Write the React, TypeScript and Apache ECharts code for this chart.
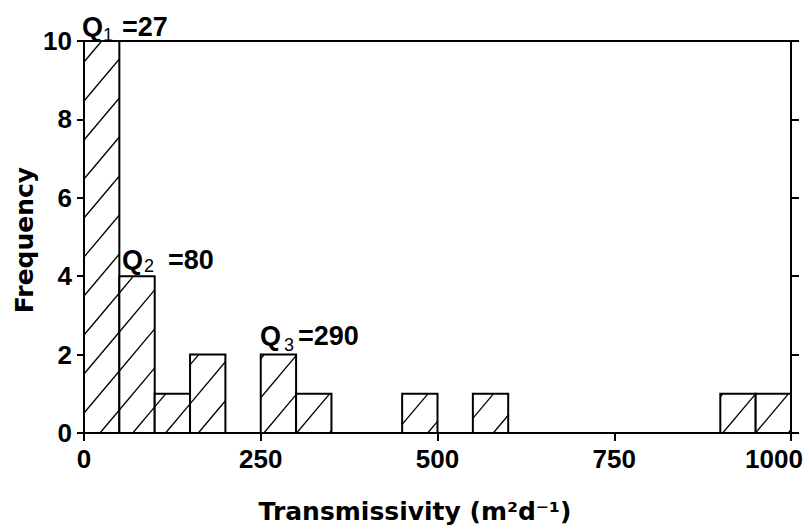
import React, { useEffect, useRef } from "react";
import * as echarts from "echarts";

// Histogram bins (m2 d-1) and their frequencies (empty bins omitted)
const binStart = [0, 50, 100, 150, 250, 300, 450, 550, 900, 950];
const binEnd = [50, 100, 150, 200, 300, 350, 500, 600, 950, 1000];
const frequency = [10, 4, 1, 2, 2, 1, 1, 1, 1, 1];

// Quartile annotations
const quartileIndex = ["1", "2", "3"];
const quartileText = ["=27", "=80", "=290"];

const xAxisTitle = "Transmissivity (m\u00B2d\u207B\u00B9)";
const yAxisTitle = "Frequency";

const NUM_FONT = "'Liberation Sans', Arial, Helvetica, sans-serif";
const TITLE_FONT = "'DejaVu Sans', 'Liberation Sans', sans-serif";

const HATCH_SLOPE = 1.19;
const HATCH_GAP = 39;
const HATCH_PHASE = 6;

function renderBar(params: any, api: any) {
  const s = api.value(0);
  const e = api.value(1);
  const f = api.value(2);
  const p0 = api.coord([s, 0]);
  const p1 = api.coord([e, f]);
  const x1 = p0[0];
  const x2 = p1[0];
  const yb = p0[1];
  const yt = p1[1];
  const children: any[] = [
    {
      type: "rect",
      shape: { x: x1, y: yt, width: x2 - x1, height: yb - yt },
      style: { fill: "#ffffff" },
    },
  ];
  const m = HATCH_SLOPE;
  const cMin = yt + m * x1;
  const cMax = yb + m * x2;
  const kStart = Math.ceil((cMin - HATCH_PHASE) / HATCH_GAP);
  const kEnd = Math.floor((cMax - HATCH_PHASE) / HATCH_GAP);
  for (let k = kStart; k <= kEnd; k++) {
    const c = HATCH_PHASE + k * HATCH_GAP;
    const xa = Math.max(x1, (c - yb) / m);
    const xb = Math.min(x2, (c - yt) / m);
    if (xb - xa > 0.5) {
      children.push({
        type: "line",
        shape: { x1: xa, y1: c - m * xa, x2: xb, y2: c - m * xb },
        style: { stroke: "#000", lineWidth: 1.3 },
      });
    }
  }
  children.push({
    type: "rect",
    shape: { x: x1, y: yt, width: x2 - x1, height: yb - yt },
    style: { fill: "none", stroke: "#000", lineWidth: 2 },
  });
  return { type: "group", children };
}

function quartileLabel(
  qx: number,
  qy: number,
  subDx: number,
  subDy: number,
  restDx: number,
  idx: number
) {
  return {
    type: "group",
    silent: true,
    children: [
      {
        type: "text",
        x: qx,
        y: qy,
        style: {
          text: "Q",
          fontFamily: NUM_FONT,
          fontWeight: "bold",
          fontSize: 27,
          fill: "#000",
          align: "left",
          verticalAlign: "middle",
        },
      },
      {
        type: "text",
        x: qx + subDx,
        y: qy + subDy,
        style: {
          text: quartileIndex[idx],
          fontFamily: NUM_FONT,
          fontWeight: "normal",
          fontSize: 18,
          fill: "#000",
          align: "left",
          verticalAlign: "middle",
        },
      },
      {
        type: "text",
        x: qx + restDx,
        y: qy,
        style: {
          text: quartileText[idx],
          fontFamily: NUM_FONT,
          fontWeight: "bold",
          fontSize: 27,
          fill: "#000",
          align: "left",
          verticalAlign: "middle",
        },
      },
    ],
  };
}

export default function App() {
  const ref = useRef<HTMLDivElement>(null);
  useEffect(() => {
    if (!ref.current) return;
    const chart = echarts.init(ref.current, null, { renderer: "svg" });
    const data = binStart.map((s, i) => [s, binEnd[i], frequency[i]]);
    const axisLineStyle = { color: "#000", width: 2 };
    const labelFont = {
      color: "#000",
      fontFamily: NUM_FONT,
      fontWeight: "bold",
      fontSize: 26,
    };
    chart.setOption({
      animation: false,
      backgroundColor: "#ffffff",
      grid: {
        left: 84,
        right: 18,
        top: 41,
        bottom: 93,
        containLabel: false,
        outerBoundsMode: "none",
      },
      xAxis: [
        {
          type: "value",
          min: 0,
          max: 1000,
          interval: 250,
          position: "bottom",
          axisLine: { show: true, onZero: false, lineStyle: axisLineStyle },
          axisTick: { show: true, inside: false, length: 8, lineStyle: { color: "#000", width: 2 } },
          axisLabel: {
            margin: 13,
            ...labelFont,
            formatter: (v: number) => (v === 1000 ? "{last|" + v + "}" : String(v)),
            rich: {
              last: { ...labelFont, padding: [0, 34, 0, 0] },
            },
          },
          splitLine: { show: false },
        },
        {
          type: "value",
          min: 0,
          max: 1000,
          position: "top",
          axisLine: { show: true, onZero: false, lineStyle: axisLineStyle },
          axisTick: { show: false },
          axisLabel: { show: false },
          splitLine: { show: false },
        },
      ],
      yAxis: [
        {
          type: "value",
          min: 0,
          max: 10,
          interval: 2,
          position: "left",
          axisLine: { show: true, onZero: false, lineStyle: axisLineStyle },
          axisTick: { show: true, inside: false, length: 7, lineStyle: { color: "#000", width: 2 } },
          axisLabel: { margin: 12, ...labelFont },
          splitLine: { show: false },
        },
        {
          type: "value",
          min: 0,
          max: 10,
          interval: 2,
          position: "right",
          axisLine: { show: true, onZero: false, lineStyle: axisLineStyle },
          axisTick: { show: true, inside: false, length: 8, lineStyle: { color: "#000", width: 2 } },
          axisLabel: { show: false },
          splitLine: { show: false },
        },
      ],
      series: [
        {
          type: "custom",
          renderItem: renderBar,
          encode: { x: [0, 1], y: 2 },
          data,
          z: 1,
        },
      ],
      graphic: [
        quartileLabel(82, 27, 21, 8, 40, 0),
        quartileLabel(122, 260, 22, 6, 46, 1),
        quartileLabel(260, 336, 24, 9, 38, 2),
        {
          type: "text",
          x: 415,
          y: 511,
          silent: true,
          style: {
            text: xAxisTitle,
            fontFamily: TITLE_FONT,
            fontWeight: "bold",
            fontSize: 25,
            fill: "#000",
            align: "center",
            verticalAlign: "middle",
          },
        },
        {
          type: "text",
          x: 24,
          y: 240,
          rotation: Math.PI / 2,
          silent: true,
          style: {
            text: yAxisTitle,
            fontFamily: TITLE_FONT,
            fontWeight: "bold",
            fontSize: 25,
            fill: "#000",
            align: "center",
            verticalAlign: "middle",
          },
        },
      ],
    });
    return () => chart.dispose();
  }, []);
  return (
    <div
      ref={ref}
      style={{ position: "fixed", left: 0, top: 0, width: 809, height: 526, background: "#fff" }}
    />
  );
}
